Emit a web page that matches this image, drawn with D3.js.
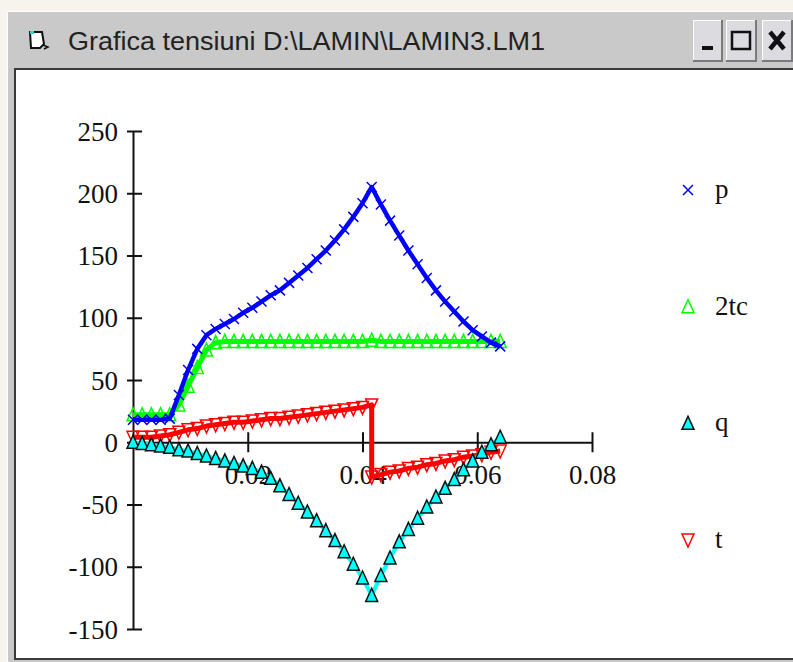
<!DOCTYPE html>
<html>
<head>
<meta charset="utf-8">
<title>Grafica tensiuni</title>
<script src="https://cdn.jsdelivr.net/npm/d3@7"></script>
<style>
    body { margin: 0; background: #f6f4ec; }
    svg { display: block; }
    .tick text { font-family: "Liberation Serif", serif; font-size: 27px; fill: #111; }
    .legend-label { font-family: "Liberation Serif", serif; font-size: 27px; fill: #111; }
    .title { font-family: "Liberation Sans", sans-serif; font-size: 25px; fill: #222; }
</style>
</head>
<body>
<div id="chart"></div>
<script>
// time samples (s)
const time = [0, 0.0016, 0.0032, 0.0048, 0.0064, 0.008, 0.0096, 0.0112, 0.0128, 0.0144,
    0.016, 0.0176, 0.0192, 0.0208, 0.0224, 0.024, 0.0256, 0.0272, 0.0288, 0.0304,
    0.032, 0.0336, 0.0352, 0.0368, 0.0384, 0.04, 0.0416, 0.0432, 0.0448, 0.0464,
    0.048, 0.0496, 0.0512, 0.0528, 0.0544, 0.056, 0.0576, 0.0592, 0.0608, 0.0624, 0.064];

const pValues = [18, 18, 18, 18, 19, 38, 58, 75, 86, 91,
    95, 99, 104, 108, 113, 118, 122, 128, 134, 140,
    147, 154, 162, 171, 181, 192, 205, 191, 178, 166,
    154, 143, 132, 122, 113, 105, 97, 90, 85, 80, 77];

const tcValues = [22, 22, 22, 22, 22, 30, 45, 60, 74, 80,
    81, 81, 81, 81, 81, 81, 81, 81, 81, 81,
    81, 81, 81, 81, 81, 81, 82, 81, 81, 81,
    81, 81, 81, 81, 81, 81, 81, 81, 81, 81, 81];

const qValues = [0, -1, -2, -3, -4, -6, -7, -9, -11, -13,
    -15, -17, -19, -21, -24, -29, -35, -42, -49, -56,
    -63, -71, -79, -88, -98, -109, -123, -107, -93, -80,
    -70, -61, -52, -44, -37, -30, -22, -15, -8, -2, 4];

// t has a jump at 0.0416, so it gets its own time list
const tTime = [0, 0.0016, 0.0032, 0.0048, 0.0064, 0.008, 0.0096, 0.0112, 0.0128, 0.0144,
    0.016, 0.0176, 0.0192, 0.0208, 0.0224, 0.024, 0.0256, 0.0272, 0.0288, 0.0304,
    0.032, 0.0336, 0.0352, 0.0368, 0.0384, 0.04, 0.0416, 0.0416, 0.0432, 0.0448, 0.0464,
    0.048, 0.0496, 0.0512, 0.0528, 0.0544, 0.056, 0.0576, 0.0592, 0.0608, 0.0624, 0.064];
const tValues = [4, 4, 4, 5, 6, 8, 10, 11, 13, 14,
    15, 16, 16, 17, 18, 19, 19, 20, 21, 22,
    23, 24, 25, 26, 27, 28, 30, -28, -26, -24, -23,
    -21, -20, -18, -17, -15, -14, -12, -11, -10, -8, -7];

const xTicks = [0.02, 0.04, 0.06, 0.08];
const yTicks = [-150, -100, -50, 0, 50, 100, 150, 200, 250];
const seriesNames = ["p", "2tc", "q", "t"];

const W = 793, H = 662;
const svg = d3.select("#chart").append("svg")
    .attr("width", W)
    .attr("height", H);

// window frame
svg.append("rect").attr("x", 7).attr("y", 11).attr("width", W - 7).attr("height", H - 11)
    .attr("fill", "#c9c9c9");
svg.append("path").attr("d", `M7.5,${H} V11.5 H${W}`).attr("stroke", "#ffffff").attr("fill", "none");
svg.append("rect").attr("x", 15).attr("y", 69).attr("width", W + 10).attr("height", 590)
    .attr("fill", "#ffffff")
    .attr("stroke", "#3a3a3a").attr("stroke-width", 2);

// title bar icon
const icon = svg.append("g").attr("transform", "translate(28,30)");
icon.append("path").attr("d", "M2,2 H14 L16,14 L12,18 H3 Z")
    .attr("fill", "#ffffff").attr("stroke", "#111").attr("stroke-width", 2);
icon.append("rect").attr("x", 2).attr("y", 1).attr("width", 4).attr("height", 3).attr("fill", "#2fd0d0");
icon.append("path").attr("d", "M15,15 L20,17 L16,19").attr("fill", "none").attr("stroke", "#111").attr("stroke-width", 1.5);

svg.append("text").attr("class", "title")
    .attr("x", 68).attr("y", 50)
    .attr("textLength", 477).attr("lengthAdjust", "spacingAndGlyphs")
    .text("Grafica tensiuni D:\\LAMIN\\LAMIN3.LM1");

// title bar buttons
const buttons = [{x: 693, w: 30}, {x: 726, w: 31}, {x: 762, w: 31}];
buttons.forEach((b, i) => {
    const g = svg.append("g").attr("transform", `translate(${b.x},20)`);
    g.append("rect").attr("width", b.w).attr("height", 42).attr("fill", "#dcdce0");
    g.append("path").attr("d", `M0.5,42 V0.5 H${b.w}`).attr("stroke", "#ffffff").attr("fill", "none");
    g.append("path").attr("d", `M${b.w - 1},0 V41 H0`).attr("stroke", "#7a7a7a").attr("stroke-width", 2).attr("fill", "none");
    if (i === 0) {
        g.append("rect").attr("x", 9).attr("y", 26).attr("width", 11).attr("height", 4).attr("fill", "#111");
    } else if (i === 1) {
        g.append("rect").attr("x", 6).attr("y", 12).attr("width", 18).attr("height", 17)
            .attr("fill", "none").attr("stroke", "#111").attr("stroke-width", 2.5);
    } else {
        g.append("path").attr("d", "M8,12 L22,29 M22,12 L8,29").attr("stroke", "#111").attr("stroke-width", 4.5);
    }
});

// scales
const x = d3.scaleLinear().domain([0, 0.08]).range([133, 592]);
const y = d3.scaleLinear().domain([-150, 250]).range([629, 131]);

// axes
const yAxis = svg.append("g")
    .attr("transform", `translate(${x(0)},0)`)
    .call(d3.axisLeft(y).tickValues(yTicks).tickSizeInner(6).tickSizeOuter(0).tickPadding(9).tickFormat(d => String(d)));
yAxis.selectAll(".tick line").attr("x1", 9).attr("stroke", "#111").attr("stroke-width", 2);
yAxis.select(".domain").attr("stroke", "#111").attr("stroke-width", 2);
yAxis.selectAll(".tick text").attr("dy", "0.34em");

const xAxis = svg.append("g")
    .attr("transform", `translate(0,${y(0)})`)
    .call(d3.axisBottom(x).tickValues(xTicks).tickSizeInner(10).tickSizeOuter(0).tickPadding(12).tickFormat(d => String(d)));
xAxis.selectAll(".tick line").attr("y1", -10).attr("stroke", "#111").attr("stroke-width", 2);
xAxis.select(".domain").attr("stroke", "#111").attr("stroke-width", 2);
xAxis.selectAll(".tick text").attr("dy", "0.72em");

// markers
function drawMarker(g, kind, color) {
    if (kind === "x") {
        g.append("path").attr("d", "M-5,-5 L5,5 M5,-5 L-5,5")
            .attr("stroke", color).attr("stroke-width", 1.5).attr("fill", "none");
    } else if (kind === "up") {
        g.append("path").attr("d", "M0,-7 L6,6 L-6,6 Z")
            .attr("stroke", color).attr("stroke-width", 1.5).attr("fill", "none");
    } else if (kind === "upFilled") {
        g.append("path").attr("d", "M0,-7 L6,6 L-6,6 Z")
            .attr("stroke", "#111").attr("stroke-width", 1.5).attr("fill", color);
    } else {
        g.append("path").attr("d", "M0,7 L6,-6 L-6,-6 Z")
            .attr("stroke", color).attr("stroke-width", 1.5).attr("fill", "none");
    }
}

const series = [
    {name: "t", times: tTime, values: tValues, color: "#ff0000", marker: "down", width: 5},
    {name: "q", times: time, values: qValues, color: "#00ffff", marker: "upFilled", width: 4},
    {name: "2tc", times: time, values: tcValues, color: "#00ff00", marker: "up", width: 5},
    {name: "p", times: time, values: pValues, color: "#0000ff", marker: "x", width: 4.5}
];

const line = d3.line().x(d => x(d[0])).y(d => y(d[1]));

series.forEach(s => {
    const pts = s.times.map((t, i) => [t, s.values[i]]);
    svg.append("path").datum(pts)
        .attr("d", line)
        .attr("fill", "none")
        .attr("stroke", s.color)
        .attr("stroke-width", s.width)
        .attr("stroke-linejoin", "round");
    pts.forEach(p => {
        const g = svg.append("g").attr("transform", `translate(${x(p[0])},${y(p[1])})`);
        drawMarker(g, s.marker, s.color);
    });
});

// legend
const legendY = d3.scalePoint().domain(seriesNames).range([190, 540]);
seriesNames.forEach(name => {
    const s = series.find(d => d.name === name);
    const g = svg.append("g").attr("transform", `translate(688,${legendY(name)})`);
    drawMarker(g, s.marker, s.color);
    svg.append("text").attr("class", "legend-label")
        .attr("x", 715).attr("y", legendY(name) + 8)
        .text(name);
});
</script>
</body>
</html>
